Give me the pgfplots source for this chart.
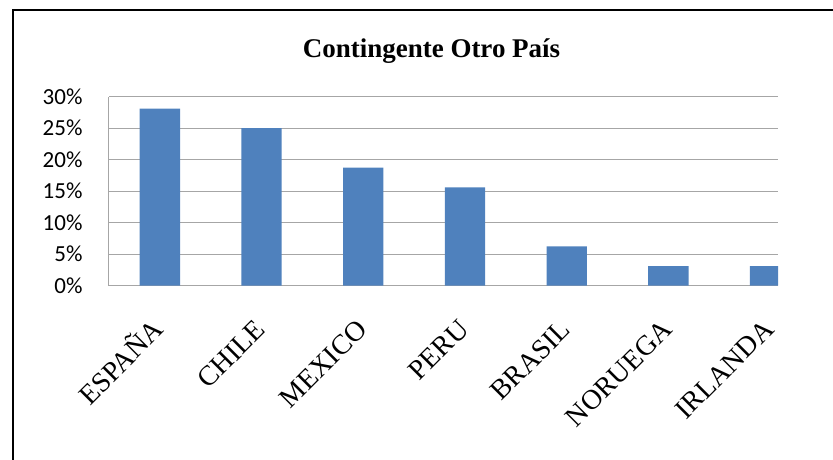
\documentclass[border=0pt]{standalone}
\usepackage{fontspec}
\setmainfont{Liberation Serif}
\newfontfamily\carlito{Carlito}
\usepackage{pgfplots}
\pgfplotsset{compat=1.18}
\definecolor{barblue}{HTML}{4F81BD}
\definecolor{gridgray}{HTML}{A6A6A6}
\begin{document}
\begin{tikzpicture}[x=1pt,y=1pt]
\useasboundingbox (0,0) rectangle (833,459);
\clip (0,0) rectangle (833,459);
% outer chart frame (cut off at right and bottom)
\draw[line width=2pt] (13,-5) -- (13,448.7) -- (840,448.7);
\node[font=\fontsize{27}{30}\selectfont\bfseries, anchor=base] at (431.5,401) {Contingente Otro País};
\begin{axis}[
  at={(109pt,362.3pt)}, anchor=north west,
  scale only axis, width=669pt, height=189pt,
  xmin=-0.5, xmax=6.078, ymin=0, ymax=30,
  axis x line*=bottom, axis y line*=left,
  axis line style={-, gridgray, line width=1pt},
  ytick={0,5,...,30},
  yticklabels={0\%,5\%,10\%,15\%,20\%,25\%,30\%},
  ymajorgrids, grid style={gridgray, line width=1pt},
  major tick length=0pt,
  xtick={0,...,6},
  xticklabels={ESPAÑA,CHILE,MEXICO,PERU,BRASIL,NORUEGA,IRLANDA},
  xticklabel style={font=\fontsize{28}{28}\selectfont, xshift=-1pt, yshift=-39pt,
    rotate=45, anchor=east, inner sep=0pt, text height=18.5pt, text depth=0pt},
  yticklabel style={font=\fontsize{23}{23}\selectfont\carlito, anchor=east,
    inner sep=0pt, xshift=-26.3pt},
  ybar, bar width=40.3pt, bar shift=0pt,
]
\addplot[fill=barblue, draw=none] coordinates {
  (0,28.125) (1,25) (2,18.75) (3,15.625) (4,6.25) (5,3.125) (6,3.125)
};
\end{axis}
\end{tikzpicture}
\end{document}
